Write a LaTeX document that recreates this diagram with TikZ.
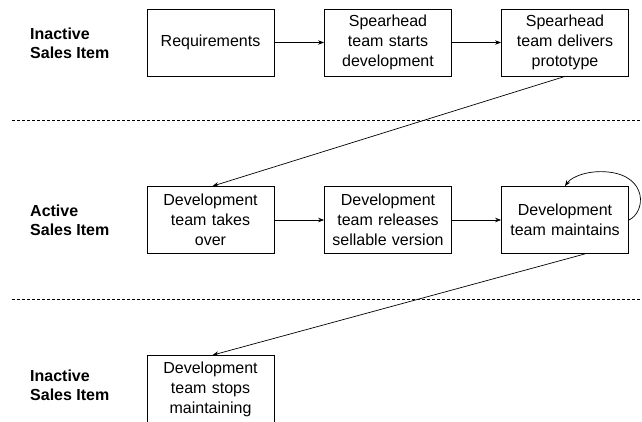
\documentclass[tikz,border=0pt]{standalone}
\usepackage{fontspec}
\setmainfont{Liberation Sans}
\usetikzlibrary{arrows.meta}
\begin{document}
\begin{tikzpicture}[x=1pt,y=-1pt,
  box/.style={draw, line width=0.8pt, minimum width=127pt, minimum height=67pt,
    text width=125pt, align=center, inner sep=0pt,
    font=\fontsize{16}{20}\selectfont},
  lbl/.style={anchor=west, align=left, inner sep=0pt,
    font=\fontsize{16}{19}\selectfont\bfseries},
  arr/.style={line width=0.7pt, -{Stealth[length=6pt,width=4.5pt]}},
  sep/.style={line width=0.7pt, dash pattern=on 3pt off 2pt}]
\useasboundingbox (0,0) rectangle (642,421);
\clip (0,0) rectangle (642,421);
% labels
\node[lbl] (l1) at (30,43) {Inactive\\Sales Item};
\node[lbl] (l2) at (30,220) {Active\\Sales Item};
\node[lbl] (l3) at (30,385) {Inactive\\Sales Item};
% boxes
\node[box] (b1) at (210.5,42.5) {Requirements};
\node[box] (b2) at (388,42.5) {Spearhead\\team starts\\development};
\node[box] (b3) at (565,42.5) {Spearhead\\team delivers\\prototype};
\node[box] (b4) at (210.5,220) {Development\\team takes\\over};
\node[box] (b5) at (388,220) {Development\\team releases\\sellable version};
\node[box] (b6) at (565,220) {Development\\team maintains};
\node[box] (b7) at (210.5,389) {Development\\team stops\\maintaining};
% separators
\coordinate (s1a) at (12,120);
\coordinate (s1b) at (642,120);
\coordinate (s2a) at (12,299);
\coordinate (s2b) at (642,299);
\draw[sep] (s1a) -- (s1b);
\draw[sep] (s2a) -- (s2b);
% arrows
\draw[arr] (b1) -- (b2);
\draw[arr] (b2) -- (b3);
\draw[arr] (b4) -- (b5);
\draw[arr] (b5) -- (b6);
\draw[arr] (b3.south) -- ([xshift=2pt]b4.north);
\draw[arr] ([xshift=20pt]b6.south) -- ([xshift=2pt]b7.north);
\coordinate (lp) at (608,172);
\draw[arr] (b6.east) .. controls (646,212) and (648,176) .. (lp)
  .. controls (590,170) and (572,176) .. (b6.north);
\end{tikzpicture}
\end{document}
